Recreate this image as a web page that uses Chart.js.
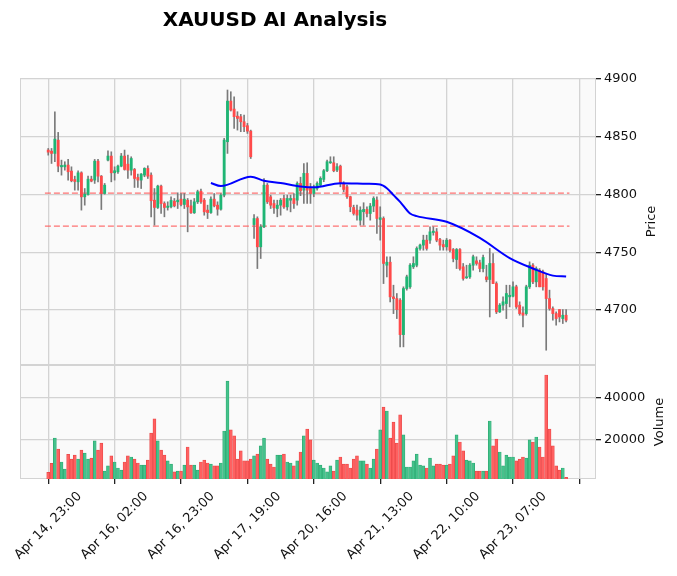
<!DOCTYPE html>
<html>
<head>
<meta charset="utf-8">
<title>XAUUSD AI Analysis</title>
<script src="https://cdn.jsdelivr.net/npm/chart.js@4.4.1/dist/chart.umd.min.js"></script>
<style>
  html, body { margin: 0; padding: 0; background: #fff; }
  canvas { display: block; }
</style>
</head>
<body>
<canvas id="chart" width="677" height="576"></canvas>
<script>
// -- Data --------------------------------------------------------------------

const TITLE = "XAUUSD AI Analysis";

// x axis: one slot per candle, a tick every 20 candles
const xTickIndex = [0, 20, 40, 60, 80, 100, 120, 140, 160];
const xTickLabels = [
  "Apr 14, 23:00", "Apr 16, 02:00", "Apr 16, 23:00", "Apr 17, 19:00",
  "Apr 20, 16:00", "Apr 21, 13:00", "Apr 22, 10:00", "Apr 23, 07:00", "",
];

const opens = [
  4838.5, 4837.6, 4835.6, 4847.1, 4824.0, 4824.0, 4825.5, 4820.3, 4813.0, 4811.0,
  4818.8, 4798.0, 4800.0, 4813.3, 4812.5, 4828.9, 4815.9, 4800.9, 4829.8, 4833.3,
  4818.8, 4819.7, 4824.6, 4833.3, 4826.3, 4821.1, 4821.7, 4814.8, 4812.5, 4816.8,
  4822.6, 4816.8, 4795.1, 4788.8, 4807.3, 4792.2, 4788.8, 4789.4, 4794.3, 4793.7,
  4796.0, 4791.4, 4795.1, 4790.2, 4784.2, 4793.7, 4802.9, 4795.1, 4786.5, 4784.4,
  4796.0, 4790.8, 4787.3, 4799.5, 4845.7, 4880.9, 4874.0, 4867.9, 4867.4, 4863.0,
  4859.6, 4854.9, 4774.0, 4779.2, 4754.7, 4772.0, 4808.1, 4798.0, 4792.2, 4787.9,
  4790.8, 4796.6, 4789.3, 4795.1, 4796.6, 4795.1, 4809.6, 4803.8, 4818.3, 4805.3,
  4800.9, 4805.3, 4808.2, 4813.1, 4820.6, 4827.5, 4827.5, 4821.2, 4824.6, 4809.6,
  4806.7, 4798.1, 4788.8, 4786.5, 4777.8, 4785.1, 4787.1, 4783.6, 4790.0, 4795.2,
  4778.4, 4779.3, 4738.8, 4741.4, 4711.4, 4709.9, 4708.5, 4678.7, 4718.6, 4720.1,
  4737.4, 4738.8, 4753.3, 4756.2, 4760.5, 4760.5, 4767.1, 4767.7, 4761.1, 4756.7,
  4754.7, 4760.5, 4752.4, 4743.7, 4752.4, 4737.4, 4727.9, 4728.7, 4738.8, 4742.6,
  4740.9, 4735.9, 4728.7, 4726.4, 4740.3, 4722.9, 4698.4, 4704.2, 4705.6, 4711.4,
  4712.0, 4720.1, 4704.2, 4697.5, 4696.9, 4720.1, 4738.8, 4724.4, 4734.5, 4733.1,
  4727.3, 4709.9, 4701.3, 4696.9, 4700.4, 4692.6, 4695.5,
];

const highs = [
  4839.9, 4839.9, 4871.7, 4853.8, 4829.8, 4828.4, 4830.4, 4824.0, 4815.9, 4820.6,
  4819.7, 4805.2, 4815.9, 4815.9, 4830.4, 4830.4, 4816.5, 4809.6, 4837.9, 4837.0,
  4824.0, 4825.5, 4835.6, 4838.5, 4834.1, 4832.7, 4822.6, 4817.7, 4818.2, 4823.2,
  4824.9, 4818.8, 4805.2, 4808.1, 4808.1, 4793.7, 4793.7, 4798.0, 4796.6, 4801.5,
  4800.9, 4800.9, 4796.6, 4795.1, 4796.6, 4803.8, 4804.7, 4796.6, 4790.8, 4798.0,
  4800.9, 4793.7, 4800.9, 4848.6, 4890.5, 4889.0, 4884.7, 4871.7, 4869.4, 4868.8,
  4861.6, 4855.8, 4782.7, 4780.7, 4774.0, 4813.9, 4809.6, 4799.5, 4795.1, 4795.1,
  4796.6, 4799.5, 4799.5, 4799.5, 4800.9, 4811.0, 4815.0, 4826.9, 4827.5, 4809.6,
  4808.2, 4811.1, 4815.4, 4821.7, 4829.8, 4832.7, 4832.7, 4826.9, 4825.5, 4811.1,
  4808.2, 4798.6, 4790.8, 4790.8, 4789.4, 4792.9, 4789.4, 4792.3, 4798.1, 4798.1,
  4789.4, 4780.7, 4746.1, 4746.1, 4721.5, 4714.3, 4709.9, 4720.1, 4730.2, 4740.3,
  4746.1, 4754.7, 4757.0, 4764.8, 4764.8, 4772.1, 4772.1, 4770.6, 4762.0, 4760.5,
  4762.0, 4761.1, 4753.3, 4753.3, 4753.3, 4740.3, 4738.8, 4740.3, 4747.5, 4746.1,
  4743.2, 4747.5, 4738.8, 4753.3, 4748.9, 4724.4, 4705.6, 4711.4, 4721.5, 4721.5,
  4724.4, 4721.5, 4707.1, 4702.7, 4721.5, 4741.7, 4740.3, 4737.4, 4735.9, 4734.5,
  4731.6, 4717.2, 4702.7, 4698.4, 4700.4, 4700.4, 4700.4,
];

const lows = [
  4834.1, 4826.9, 4828.4, 4819.7, 4816.8, 4821.1, 4812.5, 4811.0, 4803.8, 4803.8,
  4786.5, 4790.8, 4799.5, 4811.0, 4809.6, 4811.0, 4787.0, 4800.3, 4829.2, 4811.0,
  4812.5, 4818.2, 4824.0, 4821.1, 4813.9, 4816.8, 4806.1, 4806.1, 4805.2, 4815.4,
  4813.9, 4780.7, 4773.5, 4787.9, 4783.6, 4780.7, 4786.5, 4788.5, 4789.3, 4787.9,
  4790.2, 4787.9, 4767.7, 4783.6, 4783.6, 4792.2, 4792.2, 4782.1, 4779.2, 4783.6,
  4789.3, 4782.1, 4786.5, 4798.0, 4835.6, 4872.3, 4857.2, 4855.8, 4854.4, 4854.4,
  4852.9, 4831.2, 4761.9, 4735.9, 4744.6, 4771.2, 4792.2, 4787.9, 4783.6, 4780.7,
  4782.1, 4787.9, 4786.5, 4785.0, 4787.9, 4790.8, 4799.0, 4792.3, 4792.3, 4792.3,
  4798.1, 4803.8, 4806.7, 4811.1, 4819.7, 4826.9, 4819.7, 4819.7, 4806.7, 4802.4,
  4796.6, 4785.1, 4782.2, 4777.8, 4773.5, 4773.5, 4780.7, 4777.8, 4785.1, 4766.3,
  4760.5, 4722.9, 4728.7, 4707.1, 4696.9, 4692.6, 4668.1, 4668.1, 4717.2, 4718.6,
  4735.9, 4737.4, 4751.8, 4751.8, 4751.8, 4757.6, 4764.8, 4759.1, 4751.8, 4751.8,
  4751.8, 4750.4, 4741.7, 4735.9, 4734.5, 4725.8, 4727.3, 4727.3, 4734.5, 4738.8,
  4733.1, 4733.1, 4724.4, 4694.0, 4722.9, 4696.9, 4697.8, 4699.8, 4692.6, 4702.7,
  4711.4, 4701.3, 4695.5, 4685.4, 4695.5, 4718.6, 4722.9, 4720.1, 4720.1, 4717.2,
  4665.2, 4699.8, 4691.2, 4686.8, 4689.7, 4688.3, 4689.7,
];

const closes = [
  4836.7, 4835.6, 4848.0, 4824.6, 4825.2, 4825.5, 4819.7, 4811.9, 4811.3, 4818.8,
  4798.0, 4800.3, 4813.3, 4811.6, 4828.9, 4815.9, 4800.9, 4808.1, 4833.3, 4818.8,
  4820.6, 4824.6, 4833.3, 4821.7, 4821.1, 4831.2, 4813.9, 4812.5, 4817.7, 4822.6,
  4815.9, 4794.6, 4788.8, 4807.3, 4792.2, 4788.8, 4790.0, 4794.9, 4790.2, 4795.1,
  4791.4, 4796.0, 4789.3, 4784.2, 4793.7, 4802.4, 4793.7, 4785.0, 4784.4, 4796.0,
  4790.2, 4787.3, 4799.5, 4847.1, 4880.9, 4873.1, 4867.4, 4865.9, 4863.0, 4858.7,
  4854.9, 4832.7, 4779.2, 4754.7, 4772.0, 4808.1, 4793.7, 4790.8, 4788.5, 4790.8,
  4795.1, 4789.3, 4796.6, 4796.6, 4792.2, 4809.6, 4803.2, 4818.3, 4803.8, 4800.9,
  4805.3, 4809.6, 4814.0, 4820.6, 4828.4, 4828.1, 4820.6, 4824.1, 4809.6, 4804.4,
  4798.1, 4789.4, 4783.6, 4782.2, 4786.5, 4787.1, 4783.6, 4790.0, 4796.6, 4779.3,
  4779.9, 4740.3, 4741.4, 4711.4, 4709.9, 4700.4, 4678.7, 4718.6, 4728.7, 4738.8,
  4740.3, 4753.3, 4756.2, 4760.5, 4753.3, 4767.7, 4768.3, 4760.5, 4756.2, 4754.7,
  4760.5, 4751.8, 4744.6, 4752.4, 4735.9, 4727.3, 4728.7, 4738.8, 4746.1, 4740.3,
  4735.9, 4745.5, 4726.4, 4740.3, 4722.9, 4698.4, 4704.2, 4707.1, 4714.3, 4712.8,
  4720.1, 4702.7, 4696.9, 4695.5, 4720.1, 4738.8, 4724.4, 4735.9, 4720.1, 4720.1,
  4709.9, 4701.3, 4696.9, 4692.6, 4694.0, 4695.5, 4691.2,
];

const volumes = [
  4100, 8400, 20600, 15300, 9100, 5700, 12800, 10500, 12400, 10500,
  14800, 13400, 10500, 11000, 19200, 14800, 18200, 4700, 7200, 12000,
  9100, 6200, 5200, 9100, 12000, 11500, 10500, 8600, 7600, 7600,
  10000, 23000, 29800, 19200, 14800, 12400, 9600, 8100, 4300, 4700,
  4700, 7600, 16300, 7600, 7600, 5200, 9100, 10000, 8600, 8100,
  7200, 7200, 8600, 24000, 48000, 24500, 21600, 10500, 14400, 9600,
  9600, 10500, 12000, 12900, 16800, 20600, 10500, 8100, 6700, 12400,
  12400, 12900, 9100, 8600, 7200, 9600, 13900, 21600, 24900, 19700,
  10000, 8600, 7600, 6200, 4300, 7200, 4700, 10000, 11500, 8100,
  8100, 6200, 10500, 12000, 9600, 9600, 8100, 6200, 10500, 15300,
  24500, 35500, 33600, 20600, 28300, 18200, 31700, 22100, 6700, 6700,
  9600, 12900, 7600, 7200, 6200, 11000, 7200, 8100, 8100, 7600,
  7600, 8100, 12000, 22100, 18700, 14400, 10000, 9600, 8600, 4700,
  4700, 4700, 4700, 28800, 16800, 20100, 13900, 7200, 12400, 11500,
  11500, 9600, 10500, 11500, 11000, 19700, 18700, 21100, 16300, 11500,
  50900, 24900, 16800, 7200, 5200, 6200, 1700,
];

// blue moving-average line, read at a handful of candles
const maIndex = [49, 52, 61, 65, 70, 76, 80, 88, 96, 100, 102, 104, 106, 109, 111, 120, 130, 139, 146, 152, 156];
const maValues = [
  4810.0, 4807.3, 4815.5, 4812.0, 4810.0, 4807.0, 4806.2, 4809.8, 4809.3, 4808.7,
  4805.5, 4799.5, 4793.7, 4783.6, 4781.3, 4776.4, 4762.5, 4745.0, 4736.0, 4729.8, 4729.0,
];

// horizontal dashed levels and the candle span they cover
const levelValues = [4801.3, 4772.7];
const levelSpan = [-1, 157];

const priceTicks = [4700, 4750, 4800, 4850, 4900];
const volumeTicks = [20000, 40000];

// -- Styling ------------------------------------------------------------------

const UP = "#1fb574";
const DOWN = "#ff4a4a";
const UP_VOL = "#45c28c";
const DOWN_VOL = "#ff6060";
const WICK = "#7a7a7a";
const GRID = "#d3d3d3";
const PANEL_BG = "#fafafa";
const TEXT = "#111";
const FONT = "'DejaVu Sans', 'Liberation Sans', sans-serif";
const tickFont = { family: FONT, size: 13 };

const isUp = opens.map((o, i) => closes[i] >= o);

// -- Datasets -----------------------------------------------------------------

const wickData = opens.map((o, i) => ({ x: i, y: [lows[i], highs[i]] }));
const bodyData = opens.map((o, i) => ({ x: i, y: [o, closes[i]] }));
const volumeData = volumes.map((v, i) => ({ x: i, y: v }));
const maData = maIndex.map((x, k) => ({ x, y: maValues[k] }));

const levelDatasets = levelValues.map((v) => ({
  type: "line",
  data: levelSpan.map((x) => ({ x, y: v })),
  yAxisID: "y",
  borderColor: "rgba(255, 90, 90, 0.85)",
  borderWidth: 1.2,
  borderDash: [6, 3],
  pointRadius: 0,
  order: 4,
}));

// panel background / frames under everything; title, axis titles and the
// 45° x labels (centred on their tick, matplotlib style) on top
const panelPlugin = {
  id: "panels",
  beforeDraw(chart) {
    const { ctx, chartArea, scales } = chart;
    ctx.save();
    ctx.fillStyle = PANEL_BG;
    ctx.fillRect(chartArea.left, chartArea.top, chartArea.width, chartArea.height);
    ctx.strokeStyle = GRID;
    ctx.lineWidth = 1;
    [scales.y, scales.yv].forEach((s) => {
      ctx.strokeRect(chartArea.left + 0.5, s.top + 0.5, chartArea.width - 1, s.height - 1);
    });
    ctx.restore();
  },
  afterDraw(chart) {
    const { ctx, scales } = chart;
    ctx.save();
    ctx.fillStyle = "#000";
    ctx.font = `bold 20px ${FONT}`;
    ctx.textAlign = "center";
    ctx.textBaseline = "alphabetic";
    ctx.fillText(TITLE, 275, 26);

    ctx.font = `13px ${FONT}`;
    ctx.fillStyle = TEXT;
    ctx.textBaseline = "middle";

    // axis titles read bottom-to-top, as in the reference
    [[scales.y, "Price", 56], [scales.yv, "Volume", 64]].forEach(([s, text, dx]) => {
      ctx.save();
      ctx.translate(s.left + dx, (s.top + s.bottom) / 2);
      ctx.rotate(-Math.PI / 2);
      ctx.fillText(text, 0, 0);
      ctx.restore();
    });

    // rotated tick labels: bounding box centred on the tick, top just below it
    const xs = scales.x;
    const top = xs.top + 10;
    xTickIndex.forEach((v, k) => {
      const label = xTickLabels[k];
      if (!label) return;
      const w = ctx.measureText(label).width;
      const half = ((w + 15) * Math.SQRT1_2) / 2;
      ctx.save();
      ctx.translate(xs.getPixelForValue(v), top + half);
      ctx.rotate(-Math.PI / 4);
      ctx.textAlign = "center";
      ctx.fillText(label, 0, 0);
      ctx.restore();
    });
    ctx.restore();
  },
};

const plainNumber = (v) => String(v);

new Chart(document.getElementById("chart"), {
  type: "bar",
  data: {
    datasets: [
      {
        type: "line",
        data: maData,
        yAxisID: "y",
        borderColor: "#0000ff",
        borderWidth: 2,
        pointRadius: 0,
        cubicInterpolationMode: "monotone",
        order: 0,
      },
      {
        data: bodyData,
        yAxisID: "y",
        backgroundColor: isUp.map((u) => (u ? UP : DOWN)),
        borderWidth: 0,
        barThickness: 2.2,
        minBarLength: 1,
        grouped: false,
        order: 1,
      },
      {
        data: wickData,
        yAxisID: "y",
        backgroundColor: WICK,
        borderWidth: 0,
        barThickness: 1,
        grouped: false,
        order: 2,
      },
      {
        data: volumeData,
        yAxisID: "yv",
        backgroundColor: isUp.map((u) => (u ? UP_VOL : DOWN_VOL)),
        borderColor: isUp.map((u) => (u ? "#2aa870" : "#e84646")),
        borderWidth: 0.7,
        barThickness: 3,
        grouped: false,
        order: 3,
      },
      ...levelDatasets,
    ],
  },
  options: {
    responsive: false,
    animation: false,
    events: [],
    layout: { padding: { top: 78, left: 20, right: 0, bottom: 0 } },
    plugins: {
      legend: { display: false },
      tooltip: { enabled: false },
      title: { display: false },
    },
    scales: {
      x: {
        type: "linear",
        min: -8.5,
        max: 165,
        offset: false,
        afterBuildTicks: (s) => {
          s.ticks = xTickIndex.map((v) => ({ value: v }));
        },
        afterFit: (s) => {
          s.height = 97;
          s.paddingLeft = 0;
          s.paddingRight = 0;
        },
        ticks: { display: false, autoSkip: false },
        grid: { color: GRID, lineWidth: 1.3, tickLength: 5, tickColor: "#222", offset: false },
        border: { display: false },
      },
      y: {
        type: "linear",
        position: "right",
        stack: "panels",
        stackWeight: 287,
        min: 4652.4,
        max: 4900.9,
        beginAtZero: false,
        afterBuildTicks: (s) => {
          s.ticks = priceTicks.map((v) => ({ value: v }));
        },
        afterFit: (s) => {
          s.width = 81;
          s.paddingTop = 0;
          s.paddingBottom = 0;
        },
        ticks: { color: TEXT, font: tickFont, padding: 3, callback: plainNumber },
        grid: { color: GRID, lineWidth: 1.3, tickLength: 5, tickColor: "#222" },
        border: { display: false },
      },
      yv: {
        type: "linear",
        position: "right",
        stack: "panels",
        stackWeight: 114,
        min: 912,
        max: 55700,
        beginAtZero: false,
        afterBuildTicks: (s) => {
          s.ticks = volumeTicks.map((v) => ({ value: v }));
        },
        afterFit: (s) => {
          s.width = 81;
          s.paddingTop = 0;
          s.paddingBottom = 0;
        },
        ticks: { color: TEXT, font: tickFont, padding: 3, callback: plainNumber },
        grid: { color: GRID, lineWidth: 1.3, tickLength: 5, tickColor: "#222" },
        border: { display: false },
      },
    },
  },
  plugins: [panelPlugin],
});
</script>
</body>
</html>
